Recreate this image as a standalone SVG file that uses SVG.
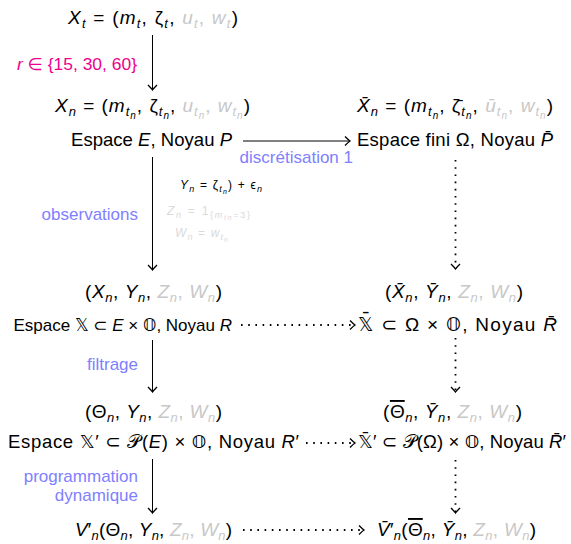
<svg xmlns="http://www.w3.org/2000/svg" width="571" height="544" viewBox="0 0 571 544">
<style>
text{font-family:"Liberation Sans","DejaVu Sans",sans-serif;font-size:17px;fill:#000}
.mt{font-size:19px}
.es{font-size:18.5px}
.ov{text-decoration:overline}
.i{font-style:italic}
.g{fill:#c8c8c8}
.b{fill:#8080ff}
.m{fill:#ec008c}
.s{font-size:13px;baseline-shift:-4px}
.ss{font-size:10px;baseline-shift:-7px}
.sm{font-size:12px}
.sms{font-size:9px;baseline-shift:-3px}
.smss{font-size:7px;baseline-shift:-5px}
.lg{fill:#dadada}
.ln{stroke:#000;stroke-width:1;fill:none}
.dt{stroke-dasharray:1.6 5.6;stroke-width:1.8}
</style>
<defs>
<marker id="ah" viewBox="-7 -6 9 12" markerWidth="9" markerHeight="12" refX="0" refY="0" orient="auto" markerUnits="userSpaceOnUse">
<path d="M-5,-4.5 Q-1.5,-1 0,0 Q-1.5,1 -5,4.5" fill="none" stroke="#000" stroke-width="1.3"/>
</marker>
</defs>

<g id="connectors">
<line class="ln" x1="152.5" y1="35" x2="152.5" y2="90" marker-end="url(#ah)"/>
<line class="ln" x1="243" y1="141" x2="350" y2="141" marker-end="url(#ah)"/>
<line class="ln" x1="152.5" y1="157" x2="152.5" y2="270" marker-end="url(#ah)"/>
<line class="ln dt" x1="455.5" y1="160" x2="455.5" y2="269" marker-end="url(#ah)"/>
<line class="ln dt" x1="241" y1="325" x2="355" y2="325" marker-end="url(#ah)"/>
<line class="ln" x1="152.5" y1="340" x2="152.5" y2="392" marker-end="url(#ah)"/>
<line class="ln dt" x1="455.5" y1="338" x2="455.5" y2="392" marker-end="url(#ah)"/>
<line class="ln dt" x1="306" y1="443" x2="355" y2="443" marker-end="url(#ah)"/>
<line class="ln" x1="152.5" y1="459" x2="152.5" y2="513" marker-end="url(#ah)"/>
<line class="ln dt" x1="455.5" y1="460" x2="455.5" y2="513" marker-end="url(#ah)"/>
<line class="ln dt" x1="243" y1="530" x2="364" y2="530" marker-end="url(#ah)"/>
</g>

<g id="labels">
<text x="17" y="70" class="m" textLength="120" lengthAdjust="spacingAndGlyphs"><tspan class="i">r</tspan> ∈ {15, 30, 60}</text>
<text x="353" y="163" text-anchor="end" class="b">discrétisation 1</text>
<text x="138" y="220" text-anchor="end" class="b">observations</text>
<text x="180" y="189" class="sm" textLength="82"><tspan class="i">Y</tspan><tspan class="i sms">n</tspan> = ζ<tspan class="i sms">t</tspan><tspan class="i smss">n</tspan>) + ϵ<tspan class="i sms">n</tspan></text>
<text x="167" y="215" class="sm lg" textLength="83"><tspan class="i">Z</tspan><tspan class="i sms">n</tspan> = 1<tspan class="sms">{</tspan><tspan class="i sms">m</tspan><tspan class="i smss">t</tspan><tspan class="i smss">n</tspan><tspan class="sms">=3}</tspan></text>
<text x="175" y="237" class="sm lg" textLength="53"><tspan class="i">W</tspan><tspan class="i sms">n</tspan> = <tspan class="i">w</tspan><tspan class="i sms">t</tspan><tspan class="i smss">n</tspan></text>
<text x="138" y="370" text-anchor="end" class="b">filtrage</text>
<text x="138" y="482" text-anchor="end" class="b">programmation</text>
<text x="138" y="501" text-anchor="end" class="b">dynamique</text>
</g>

<g id="node-Xt">
<text x="68" y="24" class="mt" textLength="170"><tspan class="i">X</tspan><tspan class="i s">t</tspan> = (<tspan class="i">m</tspan><tspan class="i s">t</tspan>, ζ<tspan class="i s">t</tspan>, <tspan class="g i">u</tspan><tspan class="g i s">t</tspan><tspan class="g">, </tspan><tspan class="g i">w</tspan><tspan class="g i s">t</tspan>)</text>
</g>

<g id="node-Xn">
<text x="55" y="112" class="mt" textLength="195"><tspan class="i">X</tspan><tspan class="i s">n</tspan> = (<tspan class="i">m</tspan><tspan class="i s">t</tspan><tspan class="i ss">n</tspan>, ζ<tspan class="i s">t</tspan><tspan class="i ss">n</tspan>, <tspan class="g i">u</tspan><tspan class="g i s">t</tspan><tspan class="g i ss">n</tspan><tspan class="g">, </tspan><tspan class="g i">w</tspan><tspan class="g i s">t</tspan><tspan class="g i ss">n</tspan>)</text>
<text x="71" y="146" class="es" textLength="161">Espace <tspan class="i">E</tspan>, Noyau <tspan class="i">P</tspan></text>
</g>

<g id="node-Xbar">
<text x="357" y="112" class="mt" textLength="196"><tspan class="i">X̄</tspan><tspan class="i s">n</tspan> = (<tspan class="i">m</tspan><tspan class="i s">t</tspan><tspan class="i ss">n</tspan>, ζ̄<tspan class="i s">t</tspan><tspan class="i ss">n</tspan>, <tspan class="g i">ū</tspan><tspan class="g i s">t</tspan><tspan class="g i ss">n</tspan><tspan class="g">, </tspan><tspan class="g i">w</tspan><tspan class="g i s">t</tspan><tspan class="g i ss">n</tspan>)</text>
<text x="357" y="146" class="es" textLength="196">Espace fini Ω, Noyau <tspan class="i">P̄</tspan></text>
</g>

<g id="node-XY">
<text x="85" y="298" class="mt" textLength="137">(<tspan class="i">X</tspan><tspan class="i s">n</tspan>, <tspan class="i">Y</tspan><tspan class="i s">n</tspan>, <tspan class="g i">Z</tspan><tspan class="g i s">n</tspan><tspan class="g">, </tspan><tspan class="g i">W</tspan><tspan class="g i s">n</tspan>)</text>
<text x="232" y="331" text-anchor="end" style="font-size:17px">Espace 𝕏 ⊂ <tspan class="i">E</tspan> × 𝕆, Noyau <tspan class="i">R</tspan></text>
</g>

<g id="node-XYbar">
<text x="385" y="298" class="mt" textLength="138">(<tspan class="i">X̄</tspan><tspan class="i s">n</tspan>, <tspan class="i">Ȳ</tspan><tspan class="i s">n</tspan>, <tspan class="g i">Z</tspan><tspan class="g i s">n</tspan><tspan class="g">, </tspan><tspan class="g i">W</tspan><tspan class="g i s">n</tspan>)</text>
<text x="358" y="331" style="font-size:19px" textLength="199">𝕏̄ ⊂ Ω × 𝕆, Noyau <tspan class="i">R̄</tspan></text>
</g>

<g id="node-Theta">
<text x="85" y="418" class="mt" textLength="137">(Θ<tspan class="i s">n</tspan>, <tspan class="i">Y</tspan><tspan class="i s">n</tspan>, <tspan class="g i">Z</tspan><tspan class="g i s">n</tspan><tspan class="g">, </tspan><tspan class="g i">W</tspan><tspan class="g i s">n</tspan>)</text>
<text x="8" y="448" class="es" textLength="291">Espace 𝕏′ ⊂ 𝒫(<tspan class="i">E</tspan>) × 𝕆, Noyau <tspan class="i">R</tspan>′</text>
</g>

<g id="node-Thetabar">
<text x="383" y="418" class="mt" textLength="139">(<tspan class="ov">Θ</tspan><tspan class="i s">n</tspan>, <tspan class="i">Ȳ</tspan><tspan class="i s">n</tspan>, <tspan class="g i">Z</tspan><tspan class="g i s">n</tspan><tspan class="g">, </tspan><tspan class="g i">W</tspan><tspan class="g i s">n</tspan>)</text>
<text x="358" y="448" class="es" textLength="208">𝕏̄′ ⊂ 𝒫(Ω) × 𝕆, Noyau <tspan class="i">R̄</tspan>′</text>
</g>

<g id="node-V">
<text x="75" y="536" class="mt" textLength="157"><tspan class="i">V</tspan>′<tspan class="i s">n</tspan>(Θ<tspan class="i s">n</tspan>, <tspan class="i">Y</tspan><tspan class="i s">n</tspan>, <tspan class="g i">Z</tspan><tspan class="g i s">n</tspan><tspan class="g">, </tspan><tspan class="g i">W</tspan><tspan class="g i s">n</tspan>)</text>
</g>

<g id="node-Vbar">
<text x="377" y="536" class="mt" textLength="159"><tspan class="i">V̄</tspan>′<tspan class="i s">n</tspan>(<tspan class="ov">Θ</tspan><tspan class="i s">n</tspan>, <tspan class="i">Ȳ</tspan><tspan class="i s">n</tspan>, <tspan class="g i">Z</tspan><tspan class="g i s">n</tspan><tspan class="g">, </tspan><tspan class="g i">W</tspan><tspan class="g i s">n</tspan>)</text>
</g>
</svg>
